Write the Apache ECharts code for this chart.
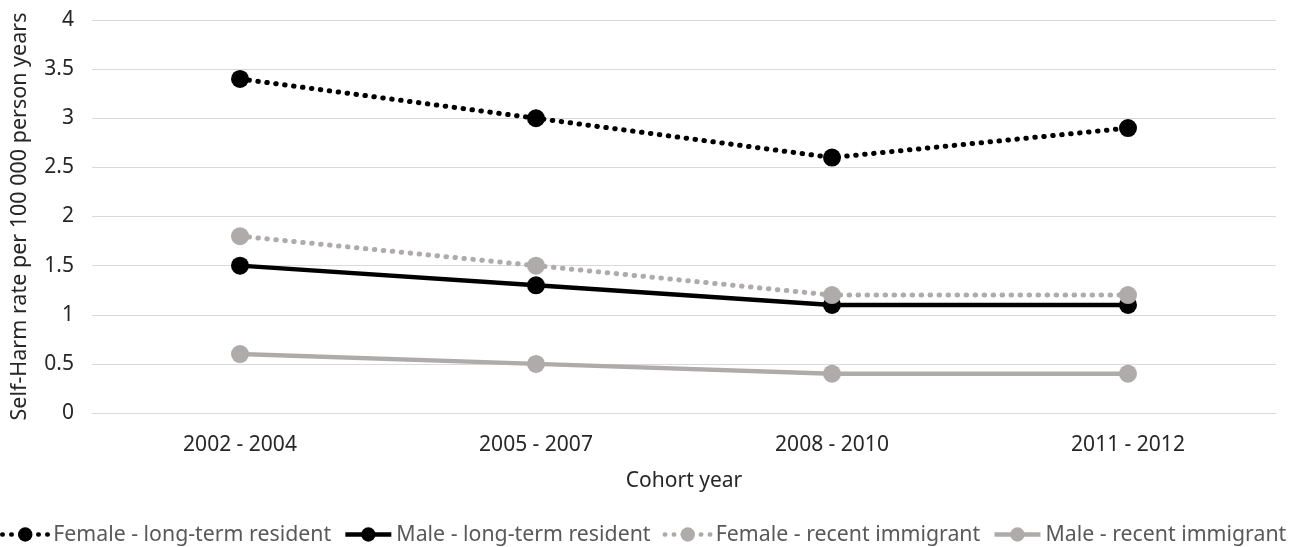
<!DOCTYPE html>
<html><head><meta charset="utf-8">
<script src="https://cdn.jsdelivr.net/npm/echarts@6/dist/echarts.min.js"></script>
<style>html,body{margin:0;padding:0;background:#fff}#c{width:1299px;height:547px}</style>
</head><body><div id="c"></div>
<script>
const categories = ['2002 - 2004', '2005 - 2007', '2008 - 2010', '2011 - 2012'];
const femaleLongTerm = [3.4, 3.0, 2.6, 2.9];
const maleLongTerm = [1.5, 1.3, 1.1, 1.1];
const femaleRecent = [1.8, 1.5, 1.2, 1.2];
const maleRecent = [0.6, 0.5, 0.4, 0.4];
const seriesNames = ['Female - long-term resident', 'Male - long-term resident', 'Female - recent immigrant', 'Male - recent immigrant'];

const FONT = 'Noto Sans';
const GREY = '#AFABAB';
function mk(name, data, color, dotted) {
  return {
    name, type: 'line', data,
    symbol: 'circle', symbolSize: 18,
    itemStyle: { color },
    lineStyle: dotted ? { color, width: 5, type: [0.5, 8.5], cap: 'round' } : { color, width: 4.5 },
    z: dotted ? 3 : 2
  };
}
const chart = echarts.init(document.getElementById('c'));
chart.setOption({
  animation: false,
  textStyle: { fontFamily: FONT },
  grid: { left: 92, right: 23, top: 20, bottom: 134, containLabel: false },
  xAxis: {
    type: 'category', data: categories, boundaryGap: true,
    axisLine: { show: true, lineStyle: { color: '#d9d9d9', width: 1 } },
    axisTick: { show: false },
    axisLabel: { color: '#262626', fontSize: 21, fontFamily: FONT, margin: 22 },
    name: 'Cohort year', nameLocation: 'middle', nameGap: 58,
    nameTextStyle: { color: '#262626', fontSize: 21, fontFamily: FONT }
  },
  yAxis: {
    type: 'value', min: 0, max: 4, interval: 0.5,
    axisLine: { show: false }, axisTick: { show: false },
    splitLine: { lineStyle: { color: '#d9d9d9', width: 1 } },
    axisLabel: { color: '#262626', fontSize: 21, fontFamily: FONT, margin: 18 },
    name: 'Self-Harm rate per 100 000 person years', nameLocation: 'middle', nameGap: 61,
    nameTextStyle: { color: '#262626', fontSize: 21.5, fontFamily: FONT }
  },
  legend: {
    data: seriesNames, left: 0, top: 524, width: 1400, padding: 0,
    itemWidth: 46, itemHeight: 18, itemGap: 12,
    lineStyle: { width: 4.5 },
    textStyle: { color: '#595959', fontSize: 21.3, fontFamily: FONT }
  },
  series: [
    mk(seriesNames[0], femaleLongTerm, '#000000', true),
    mk(seriesNames[1], maleLongTerm, '#000000', false),
    mk(seriesNames[2], femaleRecent, GREY, true),
    mk(seriesNames[3], maleRecent, GREY, false)
  ]
});
</script></body></html>
